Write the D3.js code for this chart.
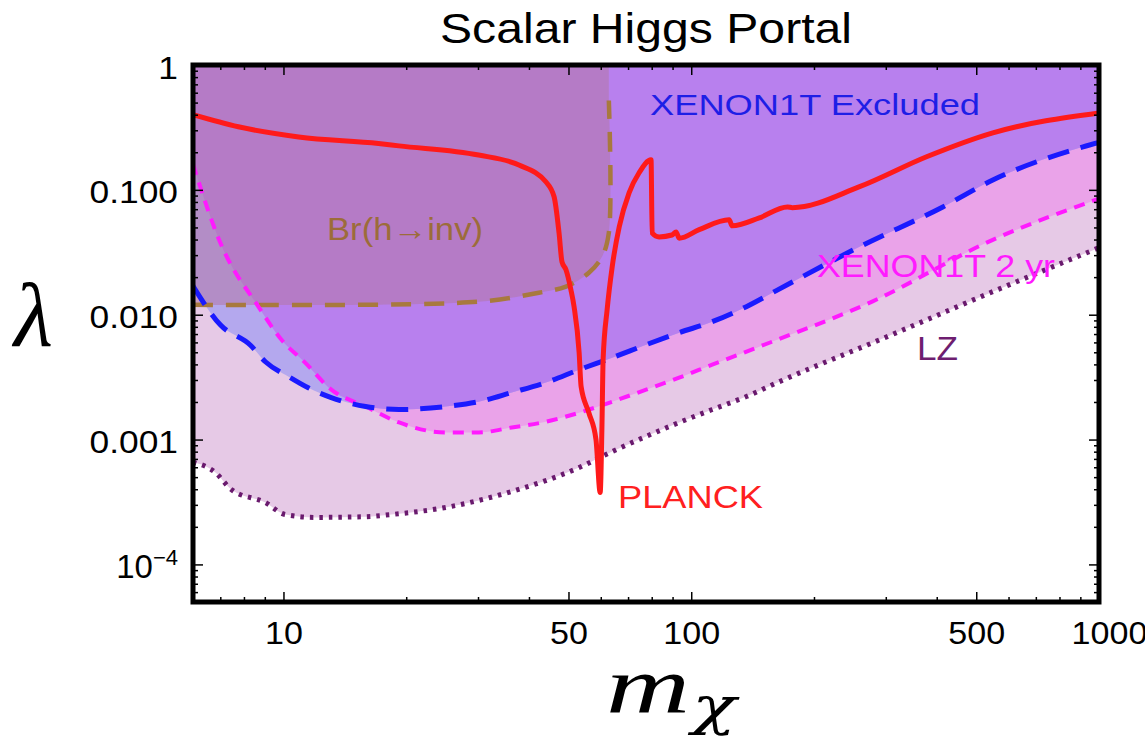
<!DOCTYPE html>
<html>
<head>
<meta charset="utf-8">
<script src="https://cdn.jsdelivr.net/npm/d3@7"></script>
<style>
  body { margin: 0; background: #fff; }
</style>
</head>
<body>
<div id="chart"></div>
<script>
// ---- data (m_chi in GeV, lambda) ----
var planckMass = [6, 7.75, 10.9, 17.1, 19.2, 30.1, 37.8, 44.0, 46.1, 47.4, 48.2, 49.3, 50.7, 51.6, 53.1, 53.7, 56.1, 58.4, 59.8,
                  60.4, 60.8, 62.2, 64.0, 66.6, 70.4, 74.5, 79.7, 80.2, 83.4, 89.7, 91.8, 93.4, 104.6, 123.9, 126, 146.9,
                  172.2, 177, 258.7, 377.7, 549, 1000];
var planckLambda = [0.40, 0.32, 0.265, 0.235, 0.225, 0.19, 0.158, 0.116, 0.088, 0.0453, 0.0265, 0.0229, 0.0158, 0.0116, 0.00497, 0.00265, 0.00164, 0.001, 0.000377,
                    0.00127, 0.00437, 0.011, 0.0242, 0.0506, 0.0946, 0.137, 0.174, 0.045, 0.042, 0.0435, 0.046, 0.041, 0.048, 0.0575, 0.0515, 0.0597,
                    0.073, 0.072, 0.106, 0.184, 0.286, 0.413];

var xenonMass = [6, 7.0, 8.3, 9.03, 10.3, 11.5, 13.1, 15.9, 19.2, 25.0, 30.1, 36.3, 44.0, 53.1, 64.0, 77.5, 93.4,
                 112.6, 136.5, 161.7, 258.7, 414, 549, 914, 1000];
var xenonLambda = [0.017, 0.0083, 0.0057, 0.0042, 0.00319, 0.0026, 0.00217, 0.00184, 0.00174, 0.00184, 0.00201, 0.00238, 0.00286, 0.00363, 0.00453, 0.00575, 0.00718,
                   0.00879, 0.0116, 0.0156, 0.035, 0.073, 0.12, 0.221, 0.24];

var xenon2yrMass = [6, 7.0, 8.68, 9.89, 11.3, 13.1, 15.9, 19.2, 25.0, 30.1, 36.3, 44.0, 53.1, 64.0, 77.5, 93.4, 112.6, 146.9, 278.6, 549, 1000];
var xenon2yrLambda = [0.16, 0.0377, 0.0116, 0.0063, 0.00413, 0.00251, 0.00184, 0.00137, 0.00114, 0.00114, 0.00125, 0.00139, 0.00164, 0.00201, 0.00251, 0.00313, 0.00398, 0.00555, 0.0128, 0.0398, 0.085];

var lzMass = [6, 6.81, 7.45, 9.03, 10.1, 12.0, 15.9, 18.4, 25.0, 36.3, 53.1, 64.0, 77.5, 93.4, 112.6, 136.5, 164.5, 290, 549, 1000];
var lzLambda = [0.00066, 0.000545, 0.000398, 0.000313, 0.000251, 0.000238, 0.000241, 0.000251, 0.000286, 0.000384, 0.000597, 0.000802, 0.00106, 0.00137, 0.00174, 0.00221, 0.00291, 0.0063, 0.0153, 0.0344];

var brMass = [6, 30.1, 42.3, 49.3, 56.1, 60.4, 62.8, 62.8];
var brLambda = [0.012, 0.0127, 0.015, 0.0168, 0.0217, 0.0291, 0.0453, 0.52];

var xTicks = [10, 50, 100, 500, 1000];
var xTickLabels = ["10", "50", "100", "500", "1000"];
var yTicks = [1e-4, 1e-3, 1e-2, 1e-1, 1];
var yTickLabels = ["10^-4", "0.001", "0.010", "0.100", "1"];

// ---- layout ----
var margin = { top: 65, right: 46, bottom: 137, left: 193 },
    W = 1145, H = 739,
    width = W - margin.left - margin.right,
    height = H - margin.top - margin.bottom;

var x = d3.scaleLog().domain([6, 1000]).range([0, width]);
var y = d3.scaleLog().domain([5e-5, 1]).range([height, 0]);

var svg = d3.select("#chart").append("svg")
    .attr("width", W)
    .attr("height", H)
    .style("font-family", "'Liberation Sans', Arial, sans-serif");

var defs = svg.append("defs");

var g = svg.append("g")
    .attr("transform", "translate(" + margin.left + "," + margin.top + ")");

defs.append("clipPath").attr("id", "plotclip")
    .append("rect").attr("x", 0).attr("y", 0).attr("width", width).attr("height", height);

function stretch(sel, f) {
    sel.each(function () {
        var w = this.getComputedTextLength();
        d3.select(this).attr("textLength", w * f).attr("lengthAdjust", "spacingAndGlyphs");
    });
}

var smooth = d3.curveMonotoneX;

// area from a limit curve up to the top of the frame
function areaAbove(curve) {
    return d3.area()
        .x(function (d) { return x(d[0]); })
        .y0(-20)
        .y1(function (d) { return y(d[1]); })
        .curve(curve);
}
function lineOf(curve) {
    return d3.line()
        .x(function (d) { return x(d[0]); })
        .y(function (d) { return y(d[1]); })
        .curve(curve);
}

var planck = d3.zip(planckMass, planckLambda),
    xenon = d3.zip(xenonMass, xenonLambda),
    xenon2 = d3.zip(xenon2yrMass, xenon2yrLambda),
    lz = d3.zip(lzMass, lzLambda),
    br = d3.zip(brMass, brLambda);

defs.append("clipPath").attr("id", "clip2yr")
    .append("path").attr("d", areaAbove(smooth)(xenon2));

var plot = g.append("g").attr("clip-path", "url(#plotclip)");

// filled regions
plot.append("path").attr("d", areaAbove(smooth)(lz)).attr("fill", "#e6c9e6");
plot.append("path").attr("d", areaAbove(smooth)(xenon2)).attr("fill", "#eaa3e9");
plot.append("path").attr("d", areaAbove(smooth)(xenon)).attr("fill", "#b4a8ee");
plot.append("g").attr("clip-path", "url(#clip2yr)")
    .append("path").attr("d", areaAbove(smooth)(xenon)).attr("fill", "#b880ee");
plot.append("path").attr("d", areaAbove(d3.curveCatmullRom.alpha(0.5))(br))
    .attr("fill", "rgb(178,118,165)").attr("fill-opacity", 0.55);

// limit curves
plot.append("path").attr("d", lineOf(d3.curveCatmullRom.alpha(0.5))(br))
    .attr("fill", "none").attr("stroke", "#a8793e").attr("stroke-width", 4.5)
    .attr("stroke-dasharray", "20,13");
plot.append("path").attr("d", lineOf(smooth)(lz))
    .attr("fill", "none").attr("stroke", "#6a1a6e").attr("stroke-width", 5)
    .attr("stroke-dasharray", "3.5,6");
plot.append("path").attr("d", lineOf(smooth)(xenon2))
    .attr("fill", "none").attr("stroke", "#ff1aff").attr("stroke-width", 4)
    .attr("stroke-dasharray", "11,8");
plot.append("path").attr("d", lineOf(smooth)(xenon))
    .attr("fill", "none").attr("stroke", "#1a1aff").attr("stroke-width", 5)
    .attr("stroke-dasharray", "22,12");
plot.append("path").attr("d", lineOf(smooth)(planck))
    .attr("fill", "none").attr("stroke", "#ff1a1a").attr("stroke-width", 5)
    .attr("stroke-linejoin", "round");

// ---- axes (ticks point inside the frame) ----
var xMinor = [], yMinor = [];
[1, 10, 100].forEach(function (dec) {
    for (var k = 2; k <= 9; k++) {
        var v = k * dec;
        if (v >= 6 && v <= 1000 && xTicks.indexOf(v) < 0) xMinor.push(v);
    }
});
[1e-5, 1e-4, 1e-3, 1e-2, 1e-1].forEach(function (dec) {
    for (var k = 2; k <= 9; k++) {
        var v = k * dec;
        if (v >= 5e-5 && v <= 1) yMinor.push(v);
    }
});

function styleAxis(a) {
    a.select(".domain").remove();
    a.selectAll(".tick line").attr("stroke", "#000").attr("stroke-width", 1.5);
}

var xb = g.append("g").attr("transform", "translate(0," + height + ")")
    .call(d3.axisBottom(x).tickValues(xTicks).tickSizeInner(-10).tickSizeOuter(0).tickPadding(20)
        .tickFormat(function (d, i) { return xTickLabels[i]; }));
g.append("g").attr("transform", "translate(0," + height + ")")
    .call(d3.axisBottom(x).tickValues(xMinor).tickSizeInner(-5).tickSizeOuter(0).tickFormat(""))
    .call(styleAxis);
g.append("g").call(d3.axisTop(x).tickValues(xTicks).tickSizeInner(-10).tickSizeOuter(0).tickFormat("")).call(styleAxis);
g.append("g").call(d3.axisTop(x).tickValues(xMinor).tickSizeInner(-5).tickSizeOuter(0).tickFormat("")).call(styleAxis);

var yl = g.append("g")
    .call(d3.axisLeft(y).tickValues(yTicks).tickSizeInner(-10).tickSizeOuter(0).tickPadding(15)
        .tickFormat(""));
g.append("g").call(d3.axisLeft(y).tickValues(yMinor).tickSizeInner(-5).tickSizeOuter(0).tickFormat("")).call(styleAxis);
g.append("g").attr("transform", "translate(" + width + ",0)")
    .call(d3.axisRight(y).tickValues(yTicks).tickSizeInner(-10).tickSizeOuter(0).tickFormat("")).call(styleAxis);
g.append("g").attr("transform", "translate(" + width + ",0)")
    .call(d3.axisRight(y).tickValues(yMinor).tickSizeInner(-5).tickSizeOuter(0).tickFormat("")).call(styleAxis);

styleAxis(xb);
styleAxis(yl);
xb.selectAll(".tick text").attr("fill", "#000").style("font-size", "31px")
    .attr("font-family", "'Liberation Sans', Arial, sans-serif");
stretch(xb.selectAll(".tick text"), 1.1);
xb.selectAll(".tick text").filter(function (d) { return d === 1000; }).attr("dx", 10);

yl.selectAll(".tick text").each(function (d, i) {
    var t = d3.select(this).attr("fill", "#000").style("font-size", "31px")
        .attr("font-family", "'Liberation Sans', Arial, sans-serif")
        .attr("dy", "0.42em");
    var lab = yTickLabels[i];
    if (lab.indexOf("^") > 0) {
        var parts = lab.split("^");
        t.append("tspan").text(parts[0]).style("font-size", "33px");
        t.append("tspan").text(parts[1].replace("-", "\u2212"))
            .attr("dy", "-0.6em").style("font-size", "22px");
    } else {
        t.text(lab);
        stretch(t, 1.14);
    }
});

// frame
g.append("rect").attr("x", 0).attr("y", 0).attr("width", width).attr("height", height)
    .attr("fill", "none").attr("stroke", "#000").attr("stroke-width", 5);

// ---- titles and labels ----
svg.append("text").attr("x", 646).attr("y", 43)
    .attr("text-anchor", "middle").style("font-size", "43px")
    .attr("textLength", 412).attr("lengthAdjust", "spacingAndGlyphs")
    .text("Scalar Higgs Portal");

svg.append("text").attr("x", 14).attr("y", 346)
    .attr("font-family", "'Liberation Serif', 'DejaVu Serif', serif")
    .attr("font-style", "italic").style("font-size", "90px")
    .text("\u03bb");

svg.append("text").attr("x", 606).attr("y", 712)
    .attr("font-family", "'Liberation Serif', 'DejaVu Serif', serif")
    .attr("font-style", "italic").style("font-size", "80px")
    .attr("textLength", 84).attr("lengthAdjust", "spacingAndGlyphs")
    .text("m");
svg.append("text").attr("x", 692).attr("y", 724)
    .attr("font-family", "'DejaVu Serif', serif")
    .attr("font-style", "italic").style("font-size", "52px")
    .attr("textLength", 44).attr("lengthAdjust", "spacingAndGlyphs")
    .text("\u03c7");

var notes = [
    { t: "XENON1T Excluded", x: 650, y: 115, c: "#1e1ee6", s: 30, w: 330 },
    { t: "Br(h\u2192inv)", x: 327, y: 240, c: "#9c6c3a", s: 32, w: 156 },
    { t: "XENON1T 2 yr", x: 817, y: 277, c: "#ff1aff", s: 31, w: 238 },
    { t: "LZ", x: 917, y: 360, c: "#6e1e70", s: 33, w: 41 },
    { t: "PLANCK", x: 618, y: 508, c: "#ff2020", s: 31, w: 145 }
];
svg.selectAll(".note").data(notes).enter().append("text")
    .attr("class", "note")
    .attr("x", function (d) { return d.x; })
    .attr("y", function (d) { return d.y; })
    .attr("fill", function (d) { return d.c; })
    .style("font-size", function (d) { return d.s + "px"; })
    .attr("textLength", function (d) { return d.w; })
    .attr("lengthAdjust", "spacingAndGlyphs")
    .text(function (d) { return d.t; });
</script>
</body>
</html>
